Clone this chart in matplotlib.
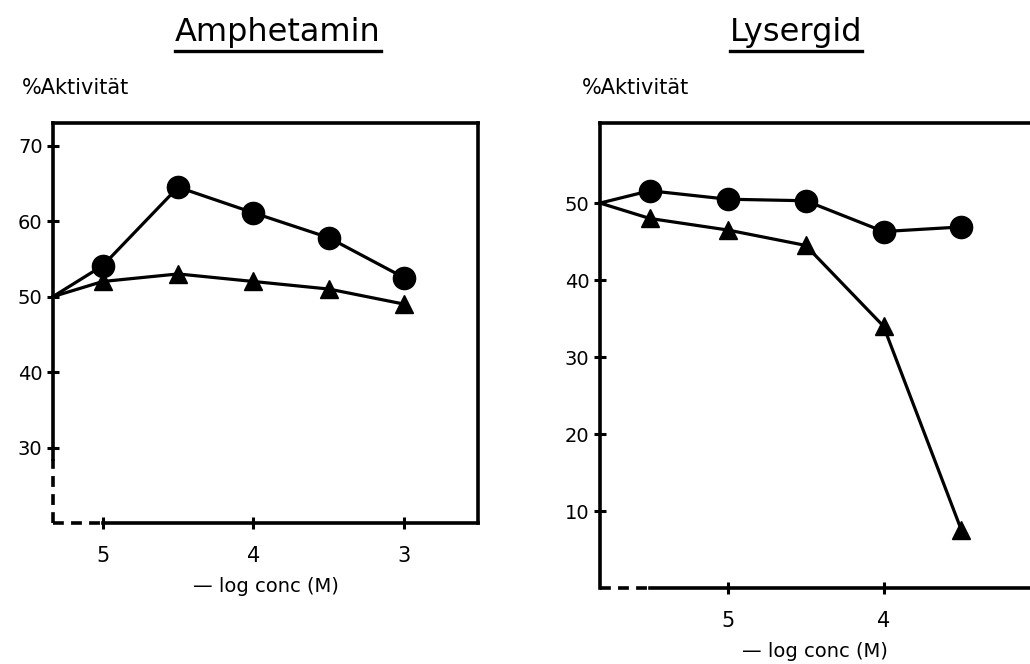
import matplotlib
matplotlib.use("Agg")
import matplotlib.pyplot as plt
from matplotlib.lines import Line2D

# Amphetamin panel (first point = control value on the y axis)
amph_x = [5.33, 5.0, 4.5, 4.0, 3.5, 3.0]
amph_circle = [50, 54.1, 64.5, 61.1, 57.8, 52.5]
amph_triangle = [50, 52.0, 53.0, 52.0, 51.0, 49.0]
amph_yticks = [30, 40, 50, 60, 70]
amph_xticks = [5, 4, 3]

# Lysergid panel
lys_x = [5.82, 5.5, 5.0, 4.5, 4.0, 3.5]
lys_circle = [50, 51.6, 50.5, 50.3, 46.3, 46.9]
lys_triangle = [50, 48.0, 46.5, 44.5, 34.0, 7.5]
lys_yticks = [10, 20, 30, 40, 50]
lys_xticks = [5, 4]

plt.rcParams['font.family'] = ['DejaVu Sans']

W, H = 1030, 664
fig = plt.figure(figsize=(W / 100, H / 100), dpi=100)
ax1 = fig.add_axes([53 / W, 1 - 523 / H, 425 / W, 400 / H])
ax2 = fig.add_axes([600 / W, 1 - 588 / H, 430 / W, 465 / H])


def draw_series(ax, x, yc, yt):
    ax.plot(x, yc, color='black', lw=2.3, marker='o', ms=16,
            markevery=slice(1, None), clip_on=False, zorder=3)
    ax.plot(x, yt, color='black', lw=2.3, marker='^', ms=13,
            markevery=slice(1, None), clip_on=False, zorder=3)


def style_axes(ax, xticks, yticks):
    for s in ax.spines.values():
        s.set_linewidth(2.6)
    ax.set_xticks(xticks)
    ax.set_xticklabels([str(t) for t in xticks], fontsize=15)
    ax.set_yticks(yticks)
    ax.set_yticklabels([str(t) for t in yticks], fontsize=14)
    ax.tick_params(axis='both', direction='inout', length=9, width=2.2)
    ax.tick_params(axis='x', pad=12)
    ax.tick_params(axis='y', pad=3)


# left panel
draw_series(ax1, amph_x, amph_circle, amph_triangle)
ax1.set_xlim(5.33, 2.51)
ax1.set_ylim(20, 73)
style_axes(ax1, amph_xticks, amph_yticks)
ax1.spines['left'].set_bounds(28.5, 73)
ax1.spines['bottom'].set_bounds(5.0, 2.51)
ax1.plot([5.33, 5.33], [20, 28.5], color='black', lw=2.6, ls=(0, (3, 2)), clip_on=False)
ax1.plot([5.33, 5.0], [20, 20], color='black', lw=2.6, ls=(0, (3, 2)), clip_on=False)
ax1.set_xlabel('— log conc (M)', fontsize=14, labelpad=8)

# right panel
draw_series(ax2, lys_x, lys_circle, lys_triangle)
ax2.set_xlim(5.82, 3.06)
ax2.set_ylim(0, 60.4)
style_axes(ax2, lys_xticks, lys_yticks)
ax2.spines['right'].set_visible(False)
ax2.spines['bottom'].set_bounds(5.5, 3.06)
ax2.plot([5.82, 5.5], [0, 0], color='black', lw=2.6, ls=(0, (3, 2)), clip_on=False)
ax2.set_xlabel('— log conc (M)', fontsize=14, labelpad=8)

# titles and y labels
t1 = fig.text(278 / W, 1 - 33 / H, 'Amphetamin', fontsize=23, ha='center', va='center')
t2 = fig.text(796 / W, 1 - 33 / H, 'Lysergid', fontsize=23, ha='center', va='center')
fig.text(22 / W, 1 - 88 / H, '%Aktivität', fontsize=15, ha='left', va='center')
fig.text(582 / W, 1 - 88 / H, '%Aktivität', fontsize=15, ha='left', va='center')

fig.canvas.draw()
r = fig.canvas.get_renderer()
for t in (t1, t2):
    bb = t.get_window_extent(r)
    y = (bb.y0 - 2) / H
    fig.add_artist(Line2D([bb.x0 / W, bb.x1 / W], [y, y], color='black', lw=2.4,
                          transform=fig.transFigure))

fig.savefig('out.png', dpi=100)
